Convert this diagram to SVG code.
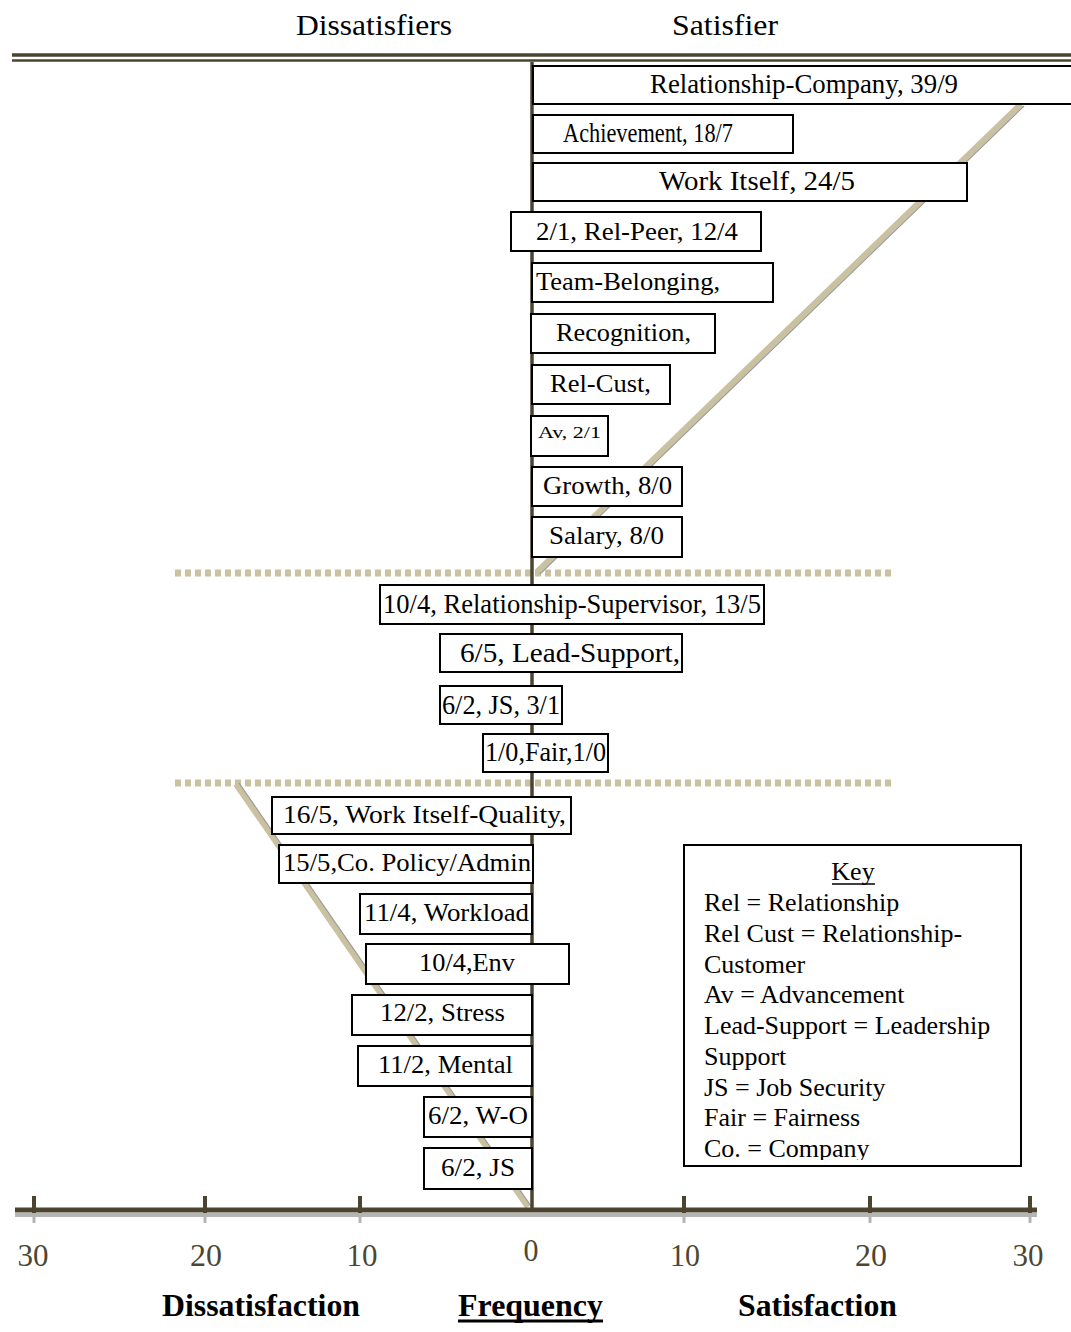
<svg xmlns="http://www.w3.org/2000/svg" width="1071" height="1332" viewBox="0 0 1071 1332">
<style>
text{font-family:"Liberation Serif","Times New Roman",serif;fill:#000}
.bx{fill:#fff;stroke:#000;stroke-width:2}
.t{font-size:26px}
.c{font-size:28px}
.hd{font-size:30px}
.ax{font-size:31px;fill:#4d4632;text-anchor:middle}
.bt{font-size:31px;font-weight:bold}
.k{font-size:26px}
.dot{stroke:#c9c1a0;stroke-width:7;stroke-dasharray:6 4}
.tan{stroke:#c9c1a0;stroke-width:6;fill:none}
.tsh{stroke:#9a9a9a;stroke-width:1.2;fill:none}
.dk{stroke:#4a4430}
</style>
<rect width="1071" height="1332" fill="#fff"/>
<g id="headings">
<text class="hd" x="296" y="35" textLength="156" lengthAdjust="spacingAndGlyphs">Dissatisfiers</text>
<text class="hd" x="672" y="35" textLength="106" lengthAdjust="spacingAndGlyphs">Satisfier</text>
</g>
<g id="connectors">
<line class="dk" x1="12" y1="55" x2="1071" y2="55" stroke-width="3.5"/>
<line class="dk" x1="12" y1="60.5" x2="1071" y2="60.5" stroke-width="2.5"/>
<line class="dot" x1="175" y1="573" x2="893" y2="573"/>
<line class="dot" x1="175" y1="783" x2="893" y2="783"/>
<line class="tan" x1="1021" y1="104" x2="537" y2="572"/>
<line class="tsh" x1="1024" y1="106" x2="540" y2="574"/>
<line class="tan" x1="236" y1="784" x2="528" y2="1207"/>
<line class="tsh" x1="239" y1="783" x2="531" y2="1206"/>
<line class="dk" x1="532" y1="62" x2="532" y2="1210" stroke-width="3.5"/>
<line x1="15" y1="1215" x2="1037" y2="1215" stroke="#b5b5b5" stroke-width="4"/>
<line class="dk" x1="15" y1="1210" x2="1037" y2="1210" stroke-width="5"/>
<g class="dk" stroke-width="4">
<line x1="34" y1="1196" x2="34" y2="1213"/>
<line x1="205" y1="1196" x2="205" y2="1213"/>
<line x1="360" y1="1196" x2="360" y2="1213"/>
<line x1="684" y1="1196" x2="684" y2="1213"/>
<line x1="870" y1="1196" x2="870" y2="1213"/>
<line x1="1030" y1="1196" x2="1030" y2="1213"/>
</g>
<g stroke="#b5b5b5" stroke-width="3">
<line x1="34" y1="1213" x2="34" y2="1223"/>
<line x1="205" y1="1213" x2="205" y2="1223"/>
<line x1="360" y1="1213" x2="360" y2="1223"/>
<line x1="684" y1="1213" x2="684" y2="1223"/>
<line x1="870" y1="1213" x2="870" y2="1223"/>
<line x1="1030" y1="1213" x2="1030" y2="1223"/>
</g>
</g>
<g id="n1"><rect class="bx" x="533" y="66" width="545" height="38"/><text class="c" x="650" y="93" textLength="308" lengthAdjust="spacingAndGlyphs">Relationship-Company, 39/9</text></g>
<g id="n2"><rect class="bx" x="533" y="115" width="260" height="38"/><text class="c" x="563" y="142" textLength="170" lengthAdjust="spacingAndGlyphs">Achievement, 18/7</text></g>
<g id="n3"><rect class="bx" x="533" y="163" width="434" height="38"/><text class="c" x="659" y="190" textLength="196" lengthAdjust="spacingAndGlyphs">Work Itself, 24/5</text></g>
<g id="n4"><rect class="bx" x="511" y="212" width="250" height="39"/><text class="t" x="536" y="240" textLength="202" lengthAdjust="spacingAndGlyphs">2/1, Rel-Peer, 12/4</text></g>
<g id="n5"><rect class="bx" x="532" y="263" width="241" height="39"/><text class="t" x="536" y="290" textLength="184" lengthAdjust="spacingAndGlyphs">Team-Belonging,</text></g>
<g id="n6"><rect class="bx" x="531" y="314" width="184" height="39"/><text class="t" x="556" y="341" textLength="135" lengthAdjust="spacingAndGlyphs">Recognition,</text></g>
<g id="n7"><rect class="bx" x="532" y="365" width="138" height="39"/><text class="t" x="550" y="392" textLength="101" lengthAdjust="spacingAndGlyphs">Rel-Cust,</text></g>
<g id="n8"><rect class="bx" x="531" y="416" width="77" height="40"/><text x="538" y="438" font-size="17" textLength="63" lengthAdjust="spacingAndGlyphs">Av, 2/1</text></g>
<g id="n9"><rect class="bx" x="532" y="467" width="150" height="39"/><text class="t" x="543" y="494" textLength="129" lengthAdjust="spacingAndGlyphs">Growth, 8/0</text></g>
<g id="n10"><rect class="bx" x="532" y="517" width="150" height="40"/><text class="t" x="549" y="544" textLength="115" lengthAdjust="spacingAndGlyphs">Salary, 8/0</text></g>
<g id="n11"><rect class="bx" x="380" y="585" width="384" height="39"/><text class="c" x="383" y="613" textLength="378" lengthAdjust="spacingAndGlyphs">10/4, Relationship-Supervisor, 13/5</text></g>
<g id="n12"><rect class="bx" x="440" y="634" width="242" height="38"/><text class="c" x="460" y="662" textLength="220" lengthAdjust="spacingAndGlyphs">6/5, Lead-Support,</text></g>
<g id="n13"><rect class="bx" x="440" y="686" width="122" height="38"/><text class="c" x="442" y="714" textLength="118" lengthAdjust="spacingAndGlyphs">6/2, JS, 3/1</text></g>
<g id="n14"><rect class="bx" x="483" y="734" width="125" height="38"/><text class="c" x="485" y="761" textLength="121" lengthAdjust="spacingAndGlyphs">1/0,Fair,1/0</text></g>
<g id="n15"><rect class="bx" x="272" y="797" width="299" height="37"/><text class="t" x="283" y="823" textLength="283" lengthAdjust="spacingAndGlyphs">16/5, Work Itself-Quality,</text></g>
<g id="n16"><rect class="bx" x="279" y="845" width="254" height="38"/><text class="t" x="283" y="871" textLength="248" lengthAdjust="spacingAndGlyphs">15/5,Co. Policy/Admin</text></g>
<g id="n17"><rect class="bx" x="360" y="894" width="172" height="40"/><text class="t" x="364" y="921" textLength="165" lengthAdjust="spacingAndGlyphs">11/4, Workload</text></g>
<g id="n18"><rect class="bx" x="366" y="944" width="203" height="40"/><text class="t" x="419" y="971" textLength="96" lengthAdjust="spacingAndGlyphs">10/4,Env</text></g>
<g id="n19"><rect class="bx" x="352" y="995" width="180" height="40"/><text class="t" x="380" y="1021" textLength="125" lengthAdjust="spacingAndGlyphs">12/2, Stress</text></g>
<g id="n20"><rect class="bx" x="358" y="1046" width="174" height="40"/><text class="t" x="378" y="1073" textLength="135" lengthAdjust="spacingAndGlyphs">11/2, Mental</text></g>
<g id="n21"><rect class="bx" x="424" y="1097" width="108" height="40"/><text class="t" x="428" y="1124" textLength="100" lengthAdjust="spacingAndGlyphs">6/2, W-O</text></g>
<g id="n22"><rect class="bx" x="424" y="1148" width="108" height="41"/><text class="t" x="441" y="1176" textLength="74" lengthAdjust="spacingAndGlyphs">6/2, JS</text></g>
<g id="key">
<defs><clipPath id="kc"><rect x="685" y="846" width="335" height="314"/></clipPath></defs>
<rect class="bx" x="684" y="845" width="337" height="321"/>
<g clip-path="url(#kc)">
<text class="k" x="853" y="880" text-anchor="middle">Key</text>
<line x1="832" y1="884" x2="875" y2="884" stroke="#000" stroke-width="1.5"/>
<text class="k" x="704" y="911">Rel = Relationship</text>
<text class="k" x="704" y="942">Rel Cust = Relationship-</text>
<text class="k" x="704" y="973">Customer</text>
<text class="k" x="704" y="1003">Av = Advancement</text>
<text class="k" x="704" y="1034">Lead-Support = Leadership</text>
<text class="k" x="704" y="1065">Support</text>
<text class="k" x="704" y="1096">JS = Job Security</text>
<text class="k" x="704" y="1126">Fair = Fairness</text>
<text class="k" x="704" y="1157">Co. = Company</text>
</g>
</g>
<g id="axis-labels">
<text class="ax" x="33" y="1266" textLength="31" lengthAdjust="spacingAndGlyphs">30</text>
<text class="ax" x="206" y="1266" textLength="32" lengthAdjust="spacingAndGlyphs">20</text>
<text class="ax" x="362" y="1266" textLength="31" lengthAdjust="spacingAndGlyphs">10</text>
<text class="ax" x="531" y="1261" textLength="15" lengthAdjust="spacingAndGlyphs">0</text>
<text class="ax" x="685" y="1266" textLength="30" lengthAdjust="spacingAndGlyphs">10</text>
<text class="ax" x="871" y="1266" textLength="32" lengthAdjust="spacingAndGlyphs">20</text>
<text class="ax" x="1028" y="1266" textLength="31" lengthAdjust="spacingAndGlyphs">30</text>
<text class="bt" x="162" y="1316" textLength="198" lengthAdjust="spacingAndGlyphs">Dissatisfaction</text>
<text class="bt" x="458" y="1316" textLength="145" lengthAdjust="spacingAndGlyphs">Frequency</text>
<line x1="458" y1="1321" x2="603" y2="1321" stroke="#000" stroke-width="3"/>
<text class="bt" x="738" y="1316" textLength="159" lengthAdjust="spacingAndGlyphs">Satisfaction</text>
</g>
</svg>
